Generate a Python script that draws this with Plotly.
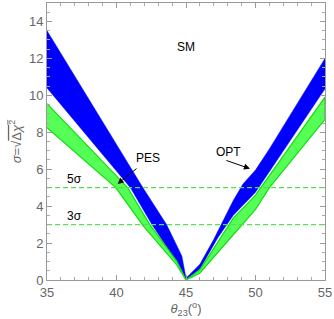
import plotly.graph_objects as go

# Blue band edges
blue_up_x = [35, 41.9, 43.6, 44.7, 45, 46, 47, 47.7, 48.4, 49.1, 50, 51, 55]
blue_up_y = [13.5, 5.0, 3.0, 1.3, 0.1, 0.85, 2.2, 3.24, 4.3, 5.2, 5.95, 7.1, 12.0]
blue_lo_x = [35, 41.0, 42.55, 44.4, 45, 46, 47.3, 48.4, 50, 55]
blue_lo_y = [10.4, 5.0, 3.0, 0.9, 0.0, 0.6, 2.3, 3.5, 4.75, 10.35]

# Green band edges
green_up_x = [35, 40.8, 42.4, 44.35, 45, 46, 48.4, 50, 55]
green_up_y = [9.55, 5.0, 3.0, 1.0, 0.0, 0.55, 3.35, 4.6, 9.9]
green_lo_x = [35, 39.95, 41.95, 44.35, 45, 46, 50, 51, 55]
green_lo_y = [8.25, 5.0, 2.9, 0.8, 0.0, 0.38, 3.82, 5.0, 8.7]

sigma_levels = [5, 3]
sigma_labels = ["5σ", "3σ"]

fig = go.Figure()

def band(ux, uy, lx, ly, fill, line, width):
    return go.Scatter(x=list(ux) + list(lx)[::-1], y=list(uy) + list(ly)[::-1],
                      fill="toself", fillcolor=fill, mode="lines",
                      line=dict(color=line, width=width), hoverinfo="skip",
                      showlegend=False)

fig.add_trace(band(blue_up_x, blue_up_y, blue_lo_x, blue_lo_y, "#0000FF", "#0000FF", 0.5))
fig.add_trace(band(green_up_x, green_up_y, green_lo_x, green_lo_y, "#55FF55", "#11DD11", 1.2))

for lvl in sigma_levels:
    fig.add_trace(go.Scatter(x=[35, 55], y=[lvl, lvl], mode="lines",
                             line=dict(color="#55E055", width=1.3, dash="5px,3px"),
                             hoverinfo="skip", showlegend=False))

font = dict(family="Liberation Sans, Arial, sans-serif", size=12, color="black")
for lvl, lab in zip(sigma_levels, sigma_labels):
    fig.add_annotation(x=37.0, y=lvl + 0.47, text=lab, showarrow=False, font=font)

fig.add_annotation(x=45.0, y=12.6, text="SM", showarrow=False, font=font)
fig.add_annotation(x=42.3, y=6.6, text="PES", showarrow=False, font=font)
fig.add_annotation(x=40.08, y=5.2, ax=41.55, ay=6.1, axref="x", ayref="y",
                   xref="x", yref="y", text="", showarrow=True, arrowhead=2,
                   arrowsize=1.2, arrowwidth=1, arrowcolor="black")
fig.add_annotation(x=48.06, y=6.95, text="OPT", showarrow=False, font=font)
fig.add_annotation(x=49.6, y=6.03, ax=47.8, ay=6.5, axref="x", ayref="y",
                   xref="x", yref="y", text="", showarrow=True, arrowhead=2,
                   arrowsize=1.2, arrowwidth=1, arrowcolor="black")

axis_common = dict(showline=True, linecolor="#999999", linewidth=1, mirror="ticks",
                   ticks="inside", ticklen=5, tickcolor="#999999", showgrid=False,
                   zeroline=False,
                   tickfont=dict(family="Liberation Sans, Arial, sans-serif", size=13, color="#666666"))

fig.update_xaxes(range=[35, 55], dtick=5, tick0=35,
                 minor=dict(ticks="inside", ticklen=3, dtick=1, tickcolor="#aaaaaa", showgrid=False),
                 title=dict(text="<i>θ</i><sub>23</sub>(<sup>o</sup>)", standoff=4,
                            font=dict(family="Liberation Sans, Arial, sans-serif", size=13, color="#666666")),
                 **axis_common)
fig.update_yaxes(range=[0, 15], dtick=2, tick0=0,
                 minor=dict(ticks="inside", ticklen=3, dtick=0.5, tickcolor="#aaaaaa", showgrid=False),
                 title=dict(text="<i>σ</i>=√<span style='text-decoration:overline'>Δ<i>χ</i><sup>2</sup></span>",
                            standoff=4,
                            font=dict(family="Liberation Sans, Arial, sans-serif", size=13, color="#666666")),
                 **axis_common)

fig.update_layout(width=334, height=319, margin=dict(l=47, r=9, t=3, b=39),
                  plot_bgcolor="white", paper_bgcolor="white")

fig.write_html("out.html", config={"displayModeBar": False},
               post_script="document.body.style.margin='0';document.body.style.overflow='hidden';")
